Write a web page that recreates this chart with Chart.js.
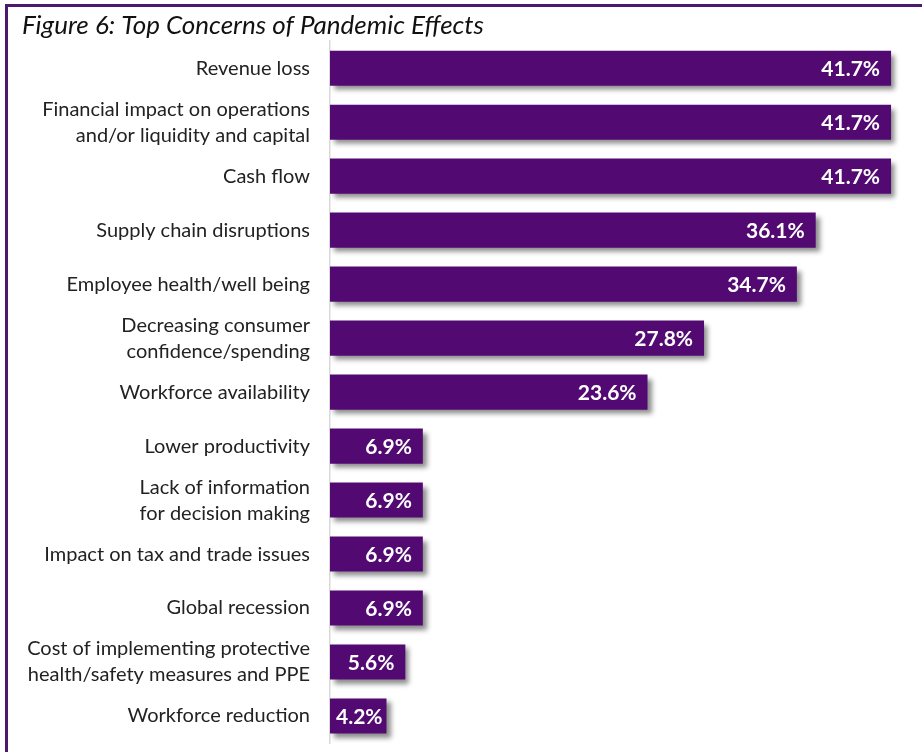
<!DOCTYPE html>
<html>
<head>
<meta charset="utf-8">
<script src="https://cdn.jsdelivr.net/npm/chart.js@4/dist/chart.umd.min.js"></script>
<style>
  html, body { margin: 0; padding: 0; background: #fff; overflow: hidden; }
  #frame {
    position: absolute; left: 5px; top: 4px; width: 1000px; height: 1000px;
    border-left: 3px solid #4b1a6c; border-top: 3px solid #4b1a6c;
  }
  #wrap { position: absolute; left: 0; top: 0; width: 922px; height: 752px; }
</style>
</head>
<body>
<div id="frame"></div>
<div id="wrap"><canvas id="concerns"></canvas></div>
<script>

// categories, top to bottom
const concerns = [
  'Revenue loss',
  ['Financial impact on operations', 'and/or liquidity and capital'],
  'Cash flow',
  'Supply chain disruptions',
  'Employee health/well being',
  ['Decreasing consumer', 'confidence/spending'],
  'Workforce availability',
  'Lower productivity',
  ['Lack of information', 'for decision making'],
  'Impact on tax and trade issues',
  'Global recession',
  ['Cost of implementing protective', 'health/safety measures and PPE'],
  'Workforce reduction'
];

// share of respondents (%)
const shares = [41.7, 41.7, 41.7, 36.1, 34.7, 27.8, 23.6, 6.9, 6.9, 6.9, 6.9, 5.6, 4.2];

const purple = '#520a72';
const fontFace = 'Lato, "Open Sans", sans-serif';

// soft drop shadow under the bars
const barShadow = {
  id: 'barShadow',
  beforeDatasetsDraw(chart) {
    const ctx = chart.ctx;
    ctx.save();
    ctx.shadowColor = 'rgba(0,0,0,0.45)';
    ctx.shadowBlur = 5;
    ctx.shadowOffsetX = 4;
    ctx.shadowOffsetY = 4;
  },
  afterDatasetsDraw(chart) {
    chart.ctx.restore();
  }
};

// white percentage labels inside the bar ends
const valueLabels = {
  id: 'valueLabels',
  afterDatasetsDraw(chart) {
    const ctx = chart.ctx;
    const meta = chart.getDatasetMeta(0);
    ctx.save();
    ctx.font = 'bold 21px ' + fontFace;
    ctx.fillStyle = '#fff';
    ctx.textAlign = 'right';
    ctx.textBaseline = 'middle';
    meta.data.forEach((bar, i) => {
      const txt = shares[i].toFixed(1) + '%';
      const w = ctx.measureText(txt).width;
      const x = Math.max(bar.x - 11, bar.base + 6 + w);
      ctx.fillText(txt, x, bar.y + 1);
    });
    ctx.restore();
  }
};

new Chart(document.getElementById('concerns'), {
  type: 'bar',
  data: {
    labels: concerns,
    datasets: [{
      data: shares,
      backgroundColor: purple,
      borderWidth: 0,
      barPercentage: 0.65,
      categoryPercentage: 1
    }]
  },
  options: {
    indexAxis: 'y',
    responsive: true,
    maintainAspectRatio: false,
    animation: false,
    layout: { padding: { left: 22, right: 0, top: 0, bottom: 9 } },
    plugins: {
      legend: { display: false },
      tooltip: { enabled: false },
      title: {
        display: true,
        text: 'Figure 6: Top Concerns of Pandemic Effects',
        align: 'start',
        color: '#111',
        font: { family: fontFace, size: 26, style: 'italic', weight: 'normal' },
        padding: { top: 10, bottom: 0 }
      }
    },
    scales: {
      x: {
        min: 0,
        max: 44,
        display: false
      },
      y: {
        afterFit(scale) {
          scale.width = 308;
          // labels sit inside their bands, no extra room needed at the ends
          scale.paddingTop = 0;
          scale.paddingBottom = 0;
        },
        grid: { display: false, drawTicks: false },
        border: { display: true, color: '#d9d9d9', width: 1.5 },
        ticks: {
          autoSkip: false,
          color: '#222',
          padding: 20,
          font: { family: fontFace, size: 20, lineHeight: 1.3 }
        }
      }
    }
  },
  plugins: [barShadow, valueLabels]
});
</script>
</body>
</html>
